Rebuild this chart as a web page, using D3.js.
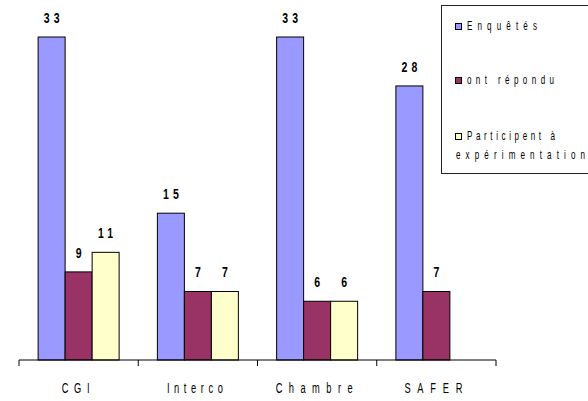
<!DOCTYPE html>
<html>
<head>
<meta charset="utf-8">
<script src="https://cdn.jsdelivr.net/npm/d3@7"></script>
<style>
  body { margin: 0; background: #fff; }
  text { font-family: "Liberation Sans", Arial, sans-serif; }
</style>
</head>
<body>
<svg width="588" height="401"></svg>
<script>
// data
const categories = ["CGI", "Interco", "Chambre", "SAFER"];
const seriesNames = ["Enquêtés", "ont répondu", "Participent à", "expérimentation"];
const enquetes = [33, 15, 33, 28];
const repondu = [9, 7, 6, 7];
const participent = [11, 7, 6, null];
const colors = ["#9999ff", "#993366", "#ffffcc"];

const svg = d3.select("svg");
const baseY = 360;

// the original uses a squeezed Arial with wide spacing
const squeezed = (sel, x, y, str, size, sx, spacing, anchor) => {
  const t = sel.append("text")
    .attr("transform", `translate(${x}, ${y}) scale(${sx}, 1)`)
    .attr("font-size", size)
    .attr("letter-spacing", spacing / sx)
    .attr("text-anchor", anchor || "start")
    .text(str);
  if (anchor === "middle") t.attr("x", spacing / sx / 2);
  return t;
};
// same look, but stretched to a given width
const fitted = (sel, x, y, str, size, sx, w) =>
  sel.append("text")
    .attr("transform", `translate(${x}, ${y}) scale(${sx}, 1)`)
    .attr("font-size", size)
    .attr("textLength", w / sx)
    .attr("lengthAdjust", "spacing")
    .text(str);

const xScale = d3.scaleBand()
  .domain(categories)
  .range([19, 496])
  .paddingInner(0)
  .paddingOuter(0);

const groupW = 81;
const sub = d3.scaleBand()
  .domain(d3.range(3))
  .range([0, groupW]);

const yScale = d3.scaleLinear()
  .domain([0, 33])
  .range([baseY, 37]);

const allSeries = [enquetes, repondu, participent];
const groupOffset = (xScale.bandwidth() - groupW) / 2;

allSeries.forEach((vals, s) => {
  const pts = categories.map((c, i) => ({c, v: vals[i]})).filter(d => d.v != null);
  svg.selectAll(".bar" + s)
    .data(pts)
    .enter().append("rect")
      .attr("x", d => xScale(d.c) + groupOffset + sub(s))
      .attr("y", d => yScale(d.v))
      .attr("width", sub.bandwidth())
      .attr("height", d => baseY - yScale(d.v))
      .attr("fill", colors[s])
      .attr("stroke", "#000")
      .attr("stroke-width", 1);
  pts.forEach(d => {
    squeezed(svg, xScale(d.c) + groupOffset + sub(s) + sub.bandwidth() / 2,
      yScale(d.v) - 14, String(d.v), 15, 0.7, 4, "middle")
      .attr("font-weight", "bold");
  });
});

// x axis
const xAxisGroup = svg.append("g").attr("transform", `translate(0, ${baseY})`);
xAxisGroup.append("line")
  .attr("x1", 19).attr("x2", 496)
  .attr("stroke", "#000");
const tickPos = categories.map(c => xScale(c)).concat([496]);
xAxisGroup.selectAll(".tk")
  .data(tickPos)
  .enter().append("line")
    .attr("x1", d => d).attr("x2", d => d)
    .attr("y1", 0).attr("y2", 6)
    .attr("stroke", "#000");
const labelW = [28, 56, 77, 58];
categories.forEach((c, i) => {
  const cx = xScale(c) + xScale.bandwidth() / 2 - 3;
  fitted(xAxisGroup, cx - labelW[i] / 2, 33, c, 15, 0.62, labelW[i]);
});

// legend
const legend = svg.append("g");
legend.append("rect")
  .attr("x", 441.5).attr("y", 5.5)
  .attr("width", 160).attr("height", 168)
  .attr("fill", "#fff")
  .attr("stroke", "#222");
const legY = [30, 84, 140];
const legW = [70, 87, 88, 129];
legY.forEach((y, i) => {
  legend.append("rect")
    .attr("x", 455.5).attr("y", y - 6.5)
    .attr("width", 6).attr("height", 6)
    .attr("fill", colors[i])
    .attr("stroke", "#000");
  fitted(legend, 467, y, seriesNames[i], 13, 0.62, legW[i]);
});
fitted(legend, 456, legY[2] + 19, seriesNames[3], 13, 0.62, legW[3]);
</script>
</body>
</html>
